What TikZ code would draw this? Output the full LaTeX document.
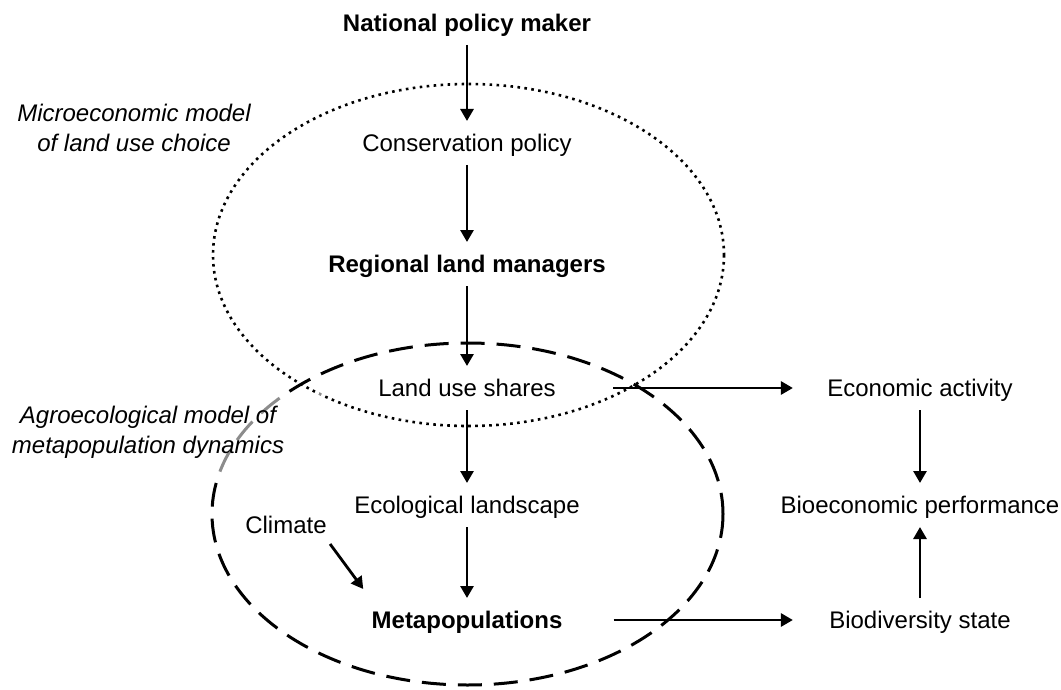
\documentclass[tikz,border=0pt]{standalone}
\usepackage{fontspec}
\setmainfont{Liberation Sans}
\usetikzlibrary{arrows.meta}

\begin{document}
\begin{tikzpicture}[x=0.5pt,y=-0.5pt,
  lbl/.style={font=\fontsize{12}{15}\selectfont, text height=8.6pt, text depth=0pt, inner xsep=6.5pt, inner ysep=6.5pt},
  lblb/.style={lbl, font=\fontsize{12}{15}\selectfont\bfseries},
  note/.style={font=\fontsize{12}{15}\selectfont\itshape, align=center, inner ysep=6.5pt},
  arr/.style={line width=1.4pt, -{Triangle[length=6pt,width=6.5pt]}}]
\useasboundingbox (0,0) rectangle (1061,690);
% model ellipses
\draw[line width=1.3pt, dash pattern=on 1.3pt off 2.2pt] (468.5,255) ellipse [x radius=255.5, y radius=171];
\draw[line width=1.5pt, dash pattern=on 12pt off 6pt] (467.5,514) ellipse [x radius=255.5, y radius=171];
\node[note, anchor=north] (microlbl) at (134,91) {Microeconomic model\\of land use choice};
\node[note, anchor=north, fill=white, fill opacity=0.55, text opacity=1, inner xsep=19pt] (agrolbl) at (148,393) {Agroecological model of\\metapopulation dynamics};
% main chain
\node[lblb] (natl) at (467,23) {National policy maker};
\node[lbl] (cons) at (467,143) {Conservation policy};
\draw[arr] (natl) -- (cons);
\node[lblb] (regmgr) at (467,264) {Regional land managers};
\draw[arr] (cons) -- (regmgr);
\node[lbl] (landuse) at (467,388) {Land use shares};
\draw[arr] (regmgr) -- (landuse);
\node[lbl] (ecoland) at (467,505) {Ecological landscape};
\draw[arr] (landuse) -- (ecoland);
\node[lblb] (metapop) at (467,620) {Metapopulations};
\draw[arr] (ecoland) -- (metapop);
\node[lbl] (climate) at (286,525) {Climate};
\draw[arr] ([shift={(-5pt,1.5pt)}]climate.south east) -- ([shift={(2.5pt,4.5pt)}]metapop.north west);
% outcomes
\node[lbl] (econ) at (920,388) {Economic activity};
\draw[arr, shorten <=22pt, shorten >=10.5pt] (landuse) -- (econ);
\node[lbl] (bioperf) at (920,505) {Bioeconomic performance};
\draw[arr] (econ) -- (bioperf);
\node[lbl] (biodiv) at (920,620) {Biodiversity state};
\draw[arr, shorten <=19pt, shorten >=11.5pt] (metapop) -- (biodiv);
\draw[arr] (biodiv) -- (bioperf);
\end{tikzpicture}
\end{document}
